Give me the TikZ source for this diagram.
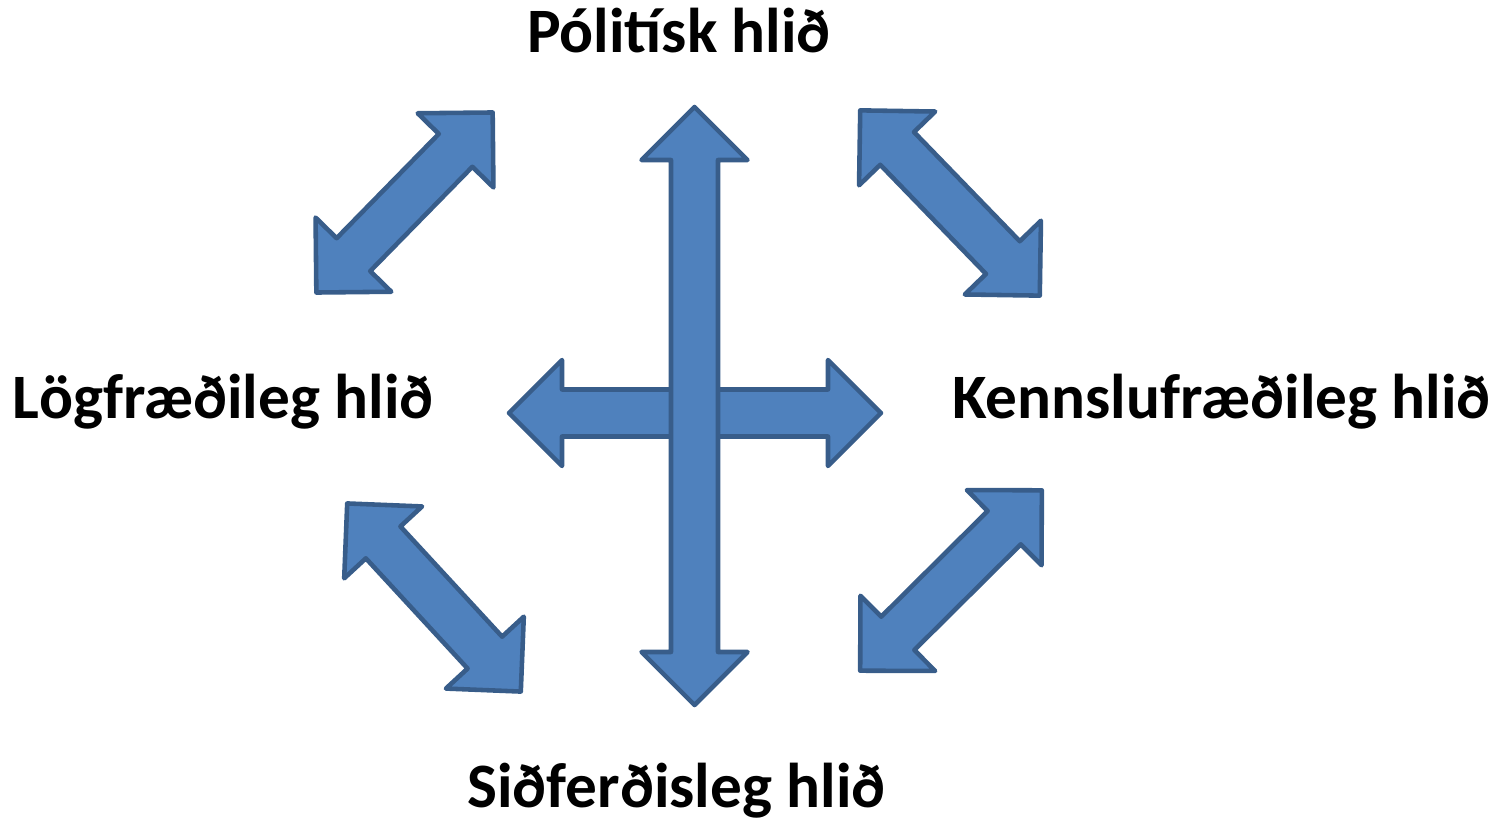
\documentclass[tikz,border=0pt]{standalone}
\usepackage{fontspec}
\setmainfont{Carlito}
\usepackage{tikz}
\definecolor{arrfill}{HTML}{4F81BD}
\definecolor{arrline}{HTML}{385D8A}

% two-headed block arrow: centre, angle, half length
\newcommand{\dblarr}[3]{%
  \begin{scope}[shift={#1},rotate=#2]
    \draw[arr] (-#3,0) -- ++(0.53,0.53) -- ++(0,-0.295) -- ++({2*#3-1.06},0)
      -- ++(0,0.295) -- ++(0.53,-0.53) -- ++(-0.53,-0.53) -- ++(0,0.295)
      -- ++({-2*#3+1.06},0) -- ++(0,-0.295) -- cycle;
  \end{scope}}

\begin{document}
\begin{tikzpicture}[arr/.style={fill=arrfill,draw=arrline,line width=1.3pt,line join=round},
    label/.style={font=\fontsize{18}{22}\selectfont\bfseries,anchor=base,inner sep=0pt}]
\useasboundingbox (0,0) rectangle (15.10,8.22);
  \node[label] (polit) at (6.79,7.69) {Pólitísk hlið};
  \node[label] (logfr) at (2.23,4.04) {Lögfræðileg hlið};
  \node[label] (kennsl) at (12.215,4.04) {Kennslufræðileg hlið};
  \node[label] (sidferd) at (6.765,0.15) {Siðferðisleg hlið};
  % corner arrows
  \dblarr{(4.045,6.195)}{45.6}{1.26}
  \dblarr{(9.50,6.19)}{-45.9}{1.29}
  \dblarr{(4.34,2.245)}{-47.3}{1.28}
  \dblarr{(9.51,2.415)}{44.8}{1.28}
  % the cross
  \dblarr{(6.95,4.09)}{0}{1.86}
  \dblarr{(6.945,4.16)}{90}{2.99}
\end{tikzpicture}
\end{document}
